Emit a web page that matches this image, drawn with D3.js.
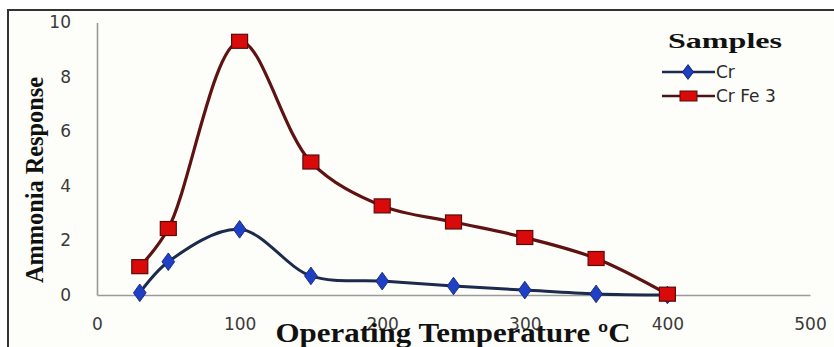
<!DOCTYPE html>
<html>
<head>
<meta charset="utf-8">
<script src="https://cdn.jsdelivr.net/npm/d3@7"></script>
<style>
html,body{margin:0;padding:0;background:#ffffff;}
svg{display:block;}
</style>
</head>
<body>
<svg id="chart" width="834" height="347"></svg>
<script>
const temperatures = [30, 50, 100, 150, 200, 250, 300, 350, 400];
const crValues     = [0.08, 1.22, 2.41, 0.70, 0.51, 0.33, 0.18, 0.04, 0.0];
const crFe3Values  = [1.04, 2.44, 9.31, 4.88, 3.27, 2.68, 2.11, 1.34, 0.03];
const xTicks = [0, 100, 200, 300, 400, 500];
const yTicks = [0, 2, 4, 6, 8, 10];
const seriesNames = ["Cr", "Cr Fe 3"];
const legendTitle = "Samples";
const xTitle = "Operating Temperature \u00BAC";
const yTitle = "Ammonia Response";

const svg = d3.select("#chart");

// frame
svg.append("rect").attr("x", 8).attr("y", 10).attr("width", 840).attr("height", 350)
  .attr("fill", "#fdfdf9").attr("stroke", "#333").attr("stroke-width", 2);

const x = d3.scaleLinear().domain([0, 500]).range([97, 810]);
const y = d3.scaleLinear().domain([0, 10]).range([295, 22.5]);

// axes
const xAxis = svg.append("g").attr("transform", `translate(0,${y(0)})`)
  .call(d3.axisBottom(x).tickValues(xTicks).tickSize(0).tickPadding(26));
const yAxis = svg.append("g").attr("transform", `translate(${x(0)},0)`)
  .call(d3.axisLeft(y).tickValues(yTicks).tickSize(0).tickPadding(26));
[xAxis, yAxis].forEach(g => {
  g.select(".domain").attr("stroke", "#9a9a9a").attr("stroke-width", 1.6);
  g.selectAll("text").attr("font-family", "DejaVu Sans, sans-serif")
    .attr("font-size", 17).attr("fill", "#3a3a3a");
});
xAxis.selectAll("text").attr("dy", "0.55em");
yAxis.selectAll("text").attr("dx", "0px");

// series
const line = d3.line().x(d => x(d[0])).y(d => y(d[1])).curve(d3.curveCatmullRom.alpha(0.5));
const crData = temperatures.map((t, i) => [t, crValues[i]]);
const feData = temperatures.map((t, i) => [t, crFe3Values[i]]);

svg.append("path").datum(crData).attr("d", line)
  .attr("fill", "none").attr("stroke", "#1c2a4c").attr("stroke-width", 3);
svg.append("path").datum(feData).attr("d", line)
  .attr("fill", "none").attr("stroke", "#5e1212").attr("stroke-width", 3.2);

const diamond = d3.symbol().type(d3.symbolDiamond).size(90);
svg.append("g").selectAll("path").data(crData).join("path")
  .attr("d", diamond)
  .attr("transform", d => `translate(${x(d[0])},${y(d[1])}) scale(1.25,1)`)
  .attr("fill", "#1f3fc4").attr("stroke", "#15287a").attr("stroke-width", 0.8);

svg.append("g").selectAll("rect").data(feData).join("rect")
  .attr("x", d => x(d[0]) - 8).attr("y", d => y(d[1]) - 7)
  .attr("width", 16).attr("height", 14)
  .attr("fill", "#d90a0a").attr("stroke", "#5a0a0a").attr("stroke-width", 1.2);

// axis titles
svg.append("text")
  .attr("transform", `translate(43,180) rotate(-90)`)
  .attr("text-anchor", "middle")
  .attr("font-family", "Liberation Serif, Times New Roman, serif")
  .attr("font-weight", "bold").attr("font-size", 25)
  .attr("textLength", 206).attr("lengthAdjust", "spacingAndGlyphs")
  .attr("fill", "#111").text(yTitle);

svg.append("text")
  .attr("x", 453).attr("y", 342)
  .attr("text-anchor", "middle")
  .attr("font-family", "Liberation Serif, Times New Roman, serif")
  .attr("font-weight", "bold").attr("font-size", 27)
  .attr("textLength", 355).attr("lengthAdjust", "spacingAndGlyphs")
  .attr("fill", "#111").text(xTitle);

// legend
const lg = svg.append("g");
lg.append("text").attr("x", 725).attr("y", 48).attr("text-anchor", "middle")
  .attr("font-family", "Liberation Serif, Times New Roman, serif")
  .attr("font-weight", "bold").attr("font-size", 22)
  .attr("textLength", 114).attr("lengthAdjust", "spacingAndGlyphs")
  .attr("fill", "#111").text(legendTitle);

const legendRows = [
  {name: seriesNames[0], y: 72, line: "#1c2a4c"},
  {name: seriesNames[1], y: 96, line: "#4a1414"}
];
legendRows.forEach((r, i) => {
  lg.append("line").attr("x1", 662).attr("x2", 715).attr("y1", r.y).attr("y2", r.y)
    .attr("stroke", r.line).attr("stroke-width", 2.6);
  if (i === 0) {
    lg.append("path").attr("d", d3.symbol().type(d3.symbolDiamond).size(60))
      .attr("transform", `translate(688,${r.y}) scale(1.3,1)`)
      .attr("fill", "#1f3fc4").attr("stroke", "#15287a").attr("stroke-width", 0.8);
  } else {
    lg.append("rect").attr("x", 680).attr("y", r.y - 5).attr("width", 17).attr("height", 10)
      .attr("fill", "#d90a0a").attr("stroke", "#5a0a0a").attr("stroke-width", 1);
  }
  lg.append("text").attr("x", 716).attr("y", r.y).attr("dy", "0.36em")
    .attr("font-family", "DejaVu Sans, sans-serif").attr("font-size", 17)
    .attr("fill", "#2a2a2a").text(r.name);
});
</script>
</body>
</html>
